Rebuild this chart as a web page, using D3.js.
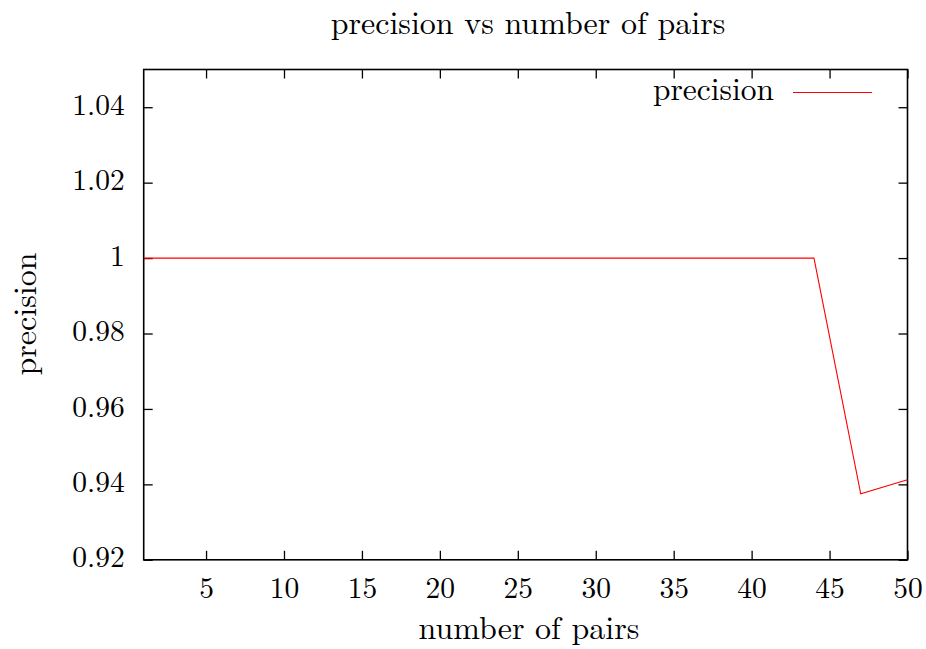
<!DOCTYPE html>
<html><head><meta charset="utf-8">
<script src="https://cdn.jsdelivr.net/npm/d3@7"></script>
<style>
html,body{margin:0;padding:0;background:#fff;}
</style></head>
<body>
<svg id="chart" width="926" height="649"></svg>
<script>
const xValues = [1,4,7,10,13,16,19,22,25,28,31,34,37,40,43,44,47,50];
const precisionValues = [1,1,1,1,1,1,1,1,1,1,1,1,1,1,1,1,0.9375,0.9412];
const xTicks = [5,10,15,20,25,30,35,40,45,50];
const yTicks = [0.92,0.94,0.96,0.98,1,1.02,1.04];
const yTickLabels = ["0.92","0.94","0.96","0.98","1","1.02","1.04"];
const seriesName = "precision";
const titleText = "precision vs number of pairs";
const xLabel = "number of pairs";
const yLabel = "precision";

const FONT = '"Latin Modern Roman","CMU Serif","Liberation Serif",serif';
const tickFs = 29.5, labelFs = 32, legendFs = 31.5;
const svg = d3.select("#chart");
const L=143.7, R=907.5, T=69.5, B=559.8;
const x = d3.scaleLinear().domain([1,50]).range([L,R]);
const y = d3.scaleLinear().domain([0.92,1.05]).range([B,T]);

const tickLen = 9;
const g = svg.append("g");
const xb = g.append("g").attr("transform",`translate(0,${B})`)
  .call(d3.axisBottom(x).tickValues(xTicks).tickSize(-tickLen).tickFormat(d3.format("d")));
const xt = g.append("g").attr("transform",`translate(0,${T})`)
  .call(d3.axisTop(x).tickValues(xTicks).tickSize(-tickLen).tickFormat(""));
const yl = g.append("g").attr("transform",`translate(${L},0)`)
  .call(d3.axisLeft(y).tickValues(yTicks).tickSize(-tickLen).tickFormat((d,i)=>yTickLabels[i]));
const yr = g.append("g").attr("transform",`translate(${R},0)`)
  .call(d3.axisRight(y).tickValues(yTicks).tickSize(-tickLen).tickFormat(""));
[xb,xt,yl,yr].forEach(a=>{
  a.attr("font-family",null).attr("font-size",null);
  a.select(".domain").remove();
  a.selectAll(".tick line").attr("stroke","#000").attr("stroke-width",1.3);
  a.selectAll("text").style("font-family",FONT).style("font-size",tickFs+"px").attr("fill","#000");
});
xb.selectAll("text").attr("y",38).attr("dy","0");
yl.selectAll("text").attr("x",-19).attr("dy","0.24em");

svg.append("rect").attr("x",L).attr("y",T).attr("width",R-L).attr("height",B-T)
  .attr("fill","none").attr("stroke","#000").attr("stroke-width",1.6);

const line = d3.line().x((d,i)=>x(xValues[i])).y(d=>y(d));
svg.append("path").datum(precisionValues).attr("d",line)
  .attr("fill","none").attr("stroke","#ff0000").attr("stroke-width",1.1);

function txt(fs){ return svg.append("text").style("font-family",FONT).style("font-size",fs+"px").attr("fill","#000"); }
txt(legendFs).attr("x",774).attr("y",99.5).attr("text-anchor","end").text(seriesName);
svg.append("line").attr("x1",793).attr("x2",872).attr("y1",92.5).attr("y2",92.5)
  .attr("stroke","#ff0000").attr("stroke-width",1.1);

txt(labelFs).attr("x",528).attr("y",34).attr("text-anchor","middle").text(titleText);
txt(labelFs).attr("x",529).attr("y",639).attr("text-anchor","middle").text(xLabel);
txt(labelFs).attr("transform","translate(36,314) rotate(-90)").attr("text-anchor","middle").text(yLabel);
</script>
</body></html>
